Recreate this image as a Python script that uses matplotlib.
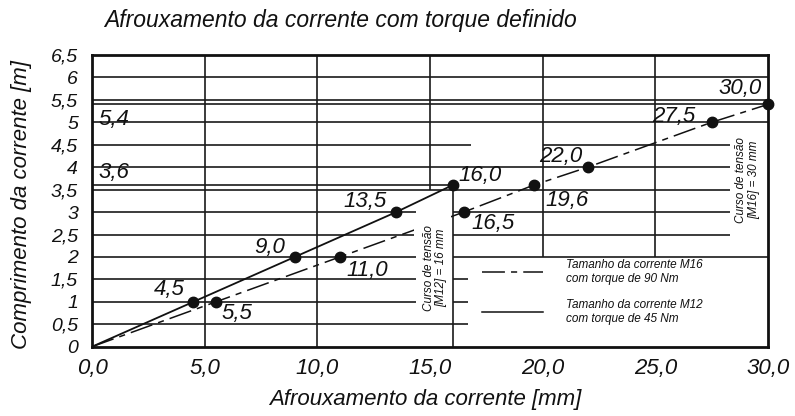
import matplotlib
matplotlib.use("Agg")
import matplotlib.pyplot as plt
from matplotlib.lines import Line2D
from matplotlib.patches import Rectangle

# ---------------- data ----------------
m12_x = [0.0, 4.5, 9.0, 13.5, 16.0]
m12_y = [0.0, 1.0, 2.0, 3.0, 3.6]
m16_x = [0.0, 5.5, 11.0, 16.5, 19.6, 22.0, 27.5, 30.0]
m16_y = [0.0, 1.0, 2.0, 3.0, 3.6, 4.0, 5.0, 5.4]

x_ticks = [0, 5, 10, 15, 20, 25, 30]
x_tick_labels = ["0,0", "5,0", "10,0", "15,0", "20,0", "25,0", "30,0"]
y_ticks = [0, 0.5, 1, 1.5, 2, 2.5, 3, 3.5, 4, 4.5, 5, 5.5, 6, 6.5]
y_tick_labels = ["0", "0,5", "1", "1,5", "2", "2,5", "3", "3,5", "4", "4,5",
                 "5", "5,5", "6", "6,5"]

title = "Afrouxamento da corrente com torque definido"
xlabel = "Afrouxamento da corrente [mm]"
ylabel = "Comprimento da corrente [m]"
legend_labels = ["Tamanho da corrente M16\ncom torque de 90 Nm",
                 "Tamanho da corrente M12\ncom torque de 45 Nm"]

# ---------------- layout ----------------
# horizontal grid segments (y, xmin, xmax)
h_segments = [
    (6.0, 0, 30), (5.5, 0, 30), (5.4, 0, 30), (5.0, 0, 30),
    (4.5, 0, 16.8), (4.5, 20, 28.3),
    (4.0, 0, 28.3), (3.6, 0, 16.0), (3.5, 0, 28.3),
    (3.0, 0, 14.4), (3.0, 16, 28.3),
    (2.5, 0, 14.4), (2.5, 16, 28.3),
    (2.0, 0, 14.4), (2.0, 16, 30),
    (1.5, 0, 14.4), (1.5, 16, 16.7),
    (1.0, 0, 14.4), (1.0, 16, 16.7),
    (0.5, 0, 16.7),
]
# vertical grid segments (x, ymin, ymax)
v_segments = [(5, 0, 6.5), (10, 0, 6.5), (15, 3.5, 6.5), (16, 0, 3.6),
              (20, 2, 6.5), (25, 2, 6.5)]

FONT = ["Liberation Sans", "DejaVu Sans"]
plt.rcParams["font.family"] = FONT
plt.rcParams["font.style"] = "italic"

fig = plt.figure(figsize=(7.95, 4.16), dpi=100)
ax = fig.add_axes([92 / 795, 1 - 346.7 / 416, 676 / 795, 291.7 / 416])
ax.set_xlim(0, 30)
ax.set_ylim(0, 6.5)

gcol = "#1a1a1a"
for y, x0, x1 in h_segments:
    ax.hlines(y, x0, x1, color=gcol, lw=1.2, zorder=1)
for x, y0, y1 in v_segments:
    ax.vlines(x, y0, y1, color=gcol, lw=1.2, zorder=4)

dash = (0, (15, 4, 4, 4))
ax.plot(m16_x, m16_y, color="#111111", lw=1.1, linestyle=dash, zorder=2)
# gap in dashed line behind rotated note
ax.add_patch(Rectangle((14.3, 2.3), 1.65, 0.62, facecolor="white",
                       edgecolor="none", zorder=3))
ax.plot(m12_x, m12_y, color="#111111", lw=1.3, zorder=5)
ax.plot(m12_x[1:], m12_y[1:], "o", color="#111111", ms=7.5, zorder=6,
        clip_on=False)
ax.plot(m16_x[1:], m16_y[1:], "o", color="#111111", ms=7.5, zorder=6,
        clip_on=False)

# point labels (offset in pixels)
m12_offsets = [(-24, 12), (-25, 9), (-31, 11), (28, 10)]
m16_offsets = [(21, -12), (27, -14), (29, -11), (33, -15), (-27, 11),
               (-38, 6), (-28, 16)]
for x, y, off in zip(m12_x[1:], m12_y[1:], m12_offsets):
    ax.annotate(f"{x:.1f}".replace(".", ","), (x, y), xytext=off,
                textcoords="offset pixels", ha="center", va="center",
                fontsize=16, color="#111111", zorder=7)
for x, y, off in zip(m16_x[1:], m16_y[1:], m16_offsets):
    ax.annotate(f"{x:.1f}".replace(".", ","), (x, y), xytext=off,
                textcoords="offset pixels", ha="center", va="center",
                fontsize=16, color="#111111", zorder=7)

# y reference labels on the left
ax.text(0.27, 5.07, "5,4", fontsize=16, ha="left", va="center", color="#111111")
ax.text(0.27, 3.88, "3,6", fontsize=16, ha="left", va="center", color="#111111")

# rotated notes
ax.text(15.22, 1.75, "Curso de tensão\n[M12] = 16 mm", rotation=90,
        fontsize=8.5, ha="center", va="center", linespacing=1.1,
        color="#111111", zorder=7)
ax.text(29.1, 3.71, "Curso de tensão\n[M16] = 30 mm", rotation=90,
        fontsize=8.5, ha="center", va="center", linespacing=1.1,
        color="#111111", zorder=7)

# legend
handles = [Line2D([], [], color="#111111", lw=1.1, linestyle=dash),
           Line2D([], [], color="#111111", lw=1.1)]
leg = ax.legend(handles, legend_labels, loc="upper left",
                bbox_to_anchor=(0.577, 0.30), frameon=False, fontsize=8.5,
                handlelength=5.2, handletextpad=1.9, labelspacing=1.2,
                borderpad=0, borderaxespad=0)
for t in leg.get_texts():
    t.set_color("#111111")

# axes styling
for s in ax.spines.values():
    s.set_linewidth(2.0)
    s.set_color("#111111")
    s.set_zorder(8)
ax.set_xticks(x_ticks)
ax.set_xticklabels(x_tick_labels, fontsize=16)
ax.set_yticks(y_ticks)
ax.set_yticklabels(y_tick_labels, fontsize=14)
ax.tick_params(axis="both", length=0, colors="#111111")
ax.tick_params(axis="x", pad=8)
ax.tick_params(axis="y", pad=10)

fig.text(104 / 795, 1 - 20 / 416, title, fontsize=16.5, ha="left", va="center",
         color="#111111")
fig.text(425 / 795, 1 - 400 / 416, xlabel, fontsize=16, ha="center",
         va="center", color="#111111")
fig.text(22 / 795, 1 - 205 / 416, ylabel, fontsize=16, ha="center",
         va="center", rotation=90, color="#111111")

fig.savefig("out.png", dpi=100)
